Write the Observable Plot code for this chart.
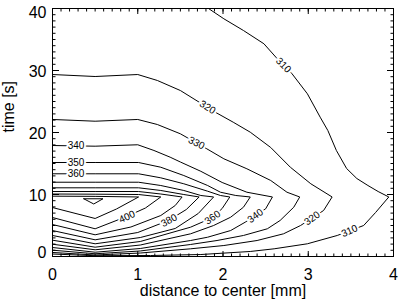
<!DOCTYPE html>
<html><head><meta charset="utf-8">
<script src="https://cdn.jsdelivr.net/npm/d3@7"></script>
<script src="https://cdn.jsdelivr.net/npm/@observablehq/plot@0.6"></script>
<style>body{margin:0;background:#fff;}</style>
</head><body>
<script>
// contour levels (temperature) and their polylines: [distance mm, time s]
const levels = [310, 320, 330, 340, 350, 360, 370, 380, 390, 400, 410, 420];
const c310 = [[1.83,40],[2.01,38.34],[2.24,36.45],[2.48,34.31],[2.62,32.15],[2.81,29.47],[2.99,26.24],[3.14,22.47],[3.23,20.32],[3.33,17.10],[3.45,14.19],[3.57,12.58],[3.70,11.45],[3.82,10.48],[3.945,9.6],[3.79,7.10],[3.65,5.0],[3.34,3.39],[2.99,2.05],[2.60,1.24],[2.32,0.81],[1.74,0.32],[1.15,0.16],[0.5,0.13],[0,0.40]];
const c320 = [[0,29.35],[0.5,29.03],[1.0,29.35],[1.23,28.39],[1.50,26.77],[1.91,23.27],[2.12,21.66],[2.32,20.05],[2.56,17.58],[2.79,14.40],[3.03,11.73],[3.28,9.6],[3.18,7.42],[2.91,5.0],[2.71,3.66],[2.40,2.58],[2.01,1.77],[1.62,1.24],[1.03,0.56],[0.5,0.24],[0,0.65]];
const c330 = [[0,22.10],[0.5,21.82],[1.0,22.10],[1.23,21.29],[1.50,19.79],[1.81,17.37],[2.01,15.76],[2.28,14.15],[2.56,12.26],[2.75,10.37],[2.90,9.6],[2.83,7.95],[2.67,5.81],[2.52,4.47],[2.24,3.39],[1.93,2.58],[1.62,1.94],[1.03,0.89],[0.5,0.44],[0,1.02]];
const c340 = [[0,17.90],[0.5,17.79],[1.0,18.02],[1.19,17.10],[1.38,16.02],[1.50,15.24],[1.74,13.74],[1.99,11.94],[2.28,10.37],[2.58,9.6],[2.50,7.69],[2.26,5.53],[2.09,4.19],[1.82,3.11],[1.62,2.58],[1.03,1.29],[0.5,0.69],[0,1.45]];
const c350 = [[0,15.16],[0.5,15.16],[1.01,15.16],[1.27,14.40],[1.54,13.06],[1.82,11.45],[1.97,10.37],[2.15,9.84],[2.32,9.6],[2.24,7.95],[2.09,6.34],[1.89,5.0],[1.62,3.66],[1.03,1.85],[0.5,1.08],[0,1.98]];
const c360 = [[0,13.34],[0.5,13.34],[1.01,13.34],[1.27,12.69],[1.54,11.73],[1.82,10.53],[1.97,9.84],[2.08,9.6],[1.99,7.74],[1.88,6.29],[1.62,4.73],[1.03,2.42],[0.5,1.50],[0,2.63]];
const c370 = [[0,11.98],[0.5,11.98],[1.01,11.98],[1.27,11.45],[1.54,10.65],[1.74,9.84],[1.89,9.6],[1.71,6.94],[1.44,4.52],[1.03,3.06],[0.5,2.05],[0,3.39]];
const c380 = [[0,11.08],[0.5,11.08],[1.01,11.08],[1.27,10.65],[1.54,10.0],[1.72,9.6],[1.57,7.58],[1.36,5.81],[1.0,3.87],[0.5,2.69],[0,4.19]];
const c390 = [[0,10.48],[0.5,10.48],[1.01,10.48],[1.27,10.08],[1.52,9.6],[1.44,8.23],[1.27,6.61],[0.92,4.76],[0.5,3.50],[0,5.16]];
const c400 = [[0,10.08],[0.5,10.05],[1.01,10.0],[1.27,9.6],[1.09,7.82],[0.87,6.45],[0.5,4.47],[0,6.29]];
const c410 = [[0,9.73],[0.5,9.70],[1.01,9.6],[0.75,7.66],[0.5,6.13],[0,7.90]];
const c420 = [[0.367,9.31],[0.592,9.31],[0.484,8.47],[0.367,9.31]];
const contourPaths = [c310, c320, c330, c340, c350, c360, c370, c380, c390, c400, c410, c420];

// contour labels
const labelText = ["310","320","330","340","350","360","400","380","360","340","320","310"];
const labelX = [2.71, 1.818, 1.689, 0.276, 0.276, 0.276, 0.874, 1.367, 1.877, 2.381, 3.046, 3.484];
const labelT = [30.85, 24.06, 18.31, 17.88, 15.16, 13.34, 6.40, 5.81, 6.29, 6.55, 6.15, 4.14];
const labelAngle = [45, 32, 28, 0, 0, 0, -24, -28, -35, -36, -36, -24];

// axes
const xMajorTicks = [0, 1, 2, 3, 4];
const yMajorTicks = [0, 10, 20, 30, 40];
const xMinorTicks = d3.range(0, 41).map(i => i / 10);
const yMinorTicks = d3.range(0, 41);
const xTitle = "distance to center [mm]";
const yTitle = "time [s]";

const rows = contourPaths.flatMap((pts, i) => pts.map(([x, t]) => ({level: levels[i], x, t})));
const labelRows = labelText.map((s, i) => ({text: s, x: labelX[i], t: labelT[i], a: labelAngle[i]}));

const font = "'Liberation Sans', Arial, Helvetica, sans-serif";
const fmt = d => String(d);

const chart = Plot.plot({
  width: 415,
  height: 304,
  marginLeft: 52,
  marginRight: 22,
  marginTop: 8,
  marginBottom: 48,
  style: {fontFamily: font, fontSize: "16px", background: "white", color: "black"},
  x: {domain: [0, 4], label: null},
  y: {domain: [0, 40], label: null},
  marks: [
    Plot.line(rows, {x: "x", y: "t", z: "level", stroke: "black", strokeWidth: 1}),
    Plot.text(labelRows, {x: "x", y: "t", text: "text", rotate: "a", fontSize: 10, fill: "black", stroke: "white", strokeWidth: 4}),
    Plot.frame({stroke: "black", strokeWidth: 1}),
    // inward ticks
    Plot.axisX({anchor: "bottom", ticks: xMinorTicks, tickSize: -2.5, fill: "none", label: null}),
    Plot.axisX({anchor: "bottom", ticks: xMajorTicks, tickSize: -5, fill: "none", label: null}),
    Plot.axisX({anchor: "top", ticks: xMinorTicks, tickSize: -2.5, fill: "none", label: null}),
    Plot.axisX({anchor: "top", ticks: xMajorTicks, tickSize: -5, fill: "none", label: null}),
    Plot.axisY({anchor: "left", ticks: yMinorTicks, tickSize: -3.5, fill: "none", label: null}),
    Plot.axisY({anchor: "left", ticks: yMajorTicks, tickSize: -7, fill: "none", label: null}),
    Plot.axisY({anchor: "right", ticks: yMinorTicks, tickSize: -3.5, fill: "none", label: null}),
    Plot.axisY({anchor: "right", ticks: yMajorTicks, tickSize: -7, fill: "none", label: null}),
    // tick labels
    Plot.axisX({anchor: "bottom", ticks: xMajorTicks, tickFormat: fmt, tickSize: 0, tickPadding: 12, fontSize: 16, label: null}),
    Plot.axisY({anchor: "left", ticks: [10, 20, 30], tickFormat: fmt, tickSize: 0, tickPadding: 6, dy: 1, fontSize: 16, label: null}),
    Plot.axisY({anchor: "left", ticks: [40], tickFormat: fmt, tickSize: 0, tickPadding: 6, dy: 4, fontSize: 16, label: null}),
    Plot.axisY({anchor: "left", ticks: [0], tickFormat: fmt, tickSize: 0, tickPadding: 6, dy: -4, fontSize: 16, label: null}),
    // titles
    Plot.text([xTitle], {frameAnchor: "bottom", dy: 34, lineAnchor: "middle", fontSize: 16, fill: "black"}),
    Plot.text([yTitle], {frameAnchor: "left", dx: -44, rotate: -90, lineAnchor: "middle", fontSize: 16, fill: "black"})
  ]
});
document.body.append(chart);
</script>
</body></html>
